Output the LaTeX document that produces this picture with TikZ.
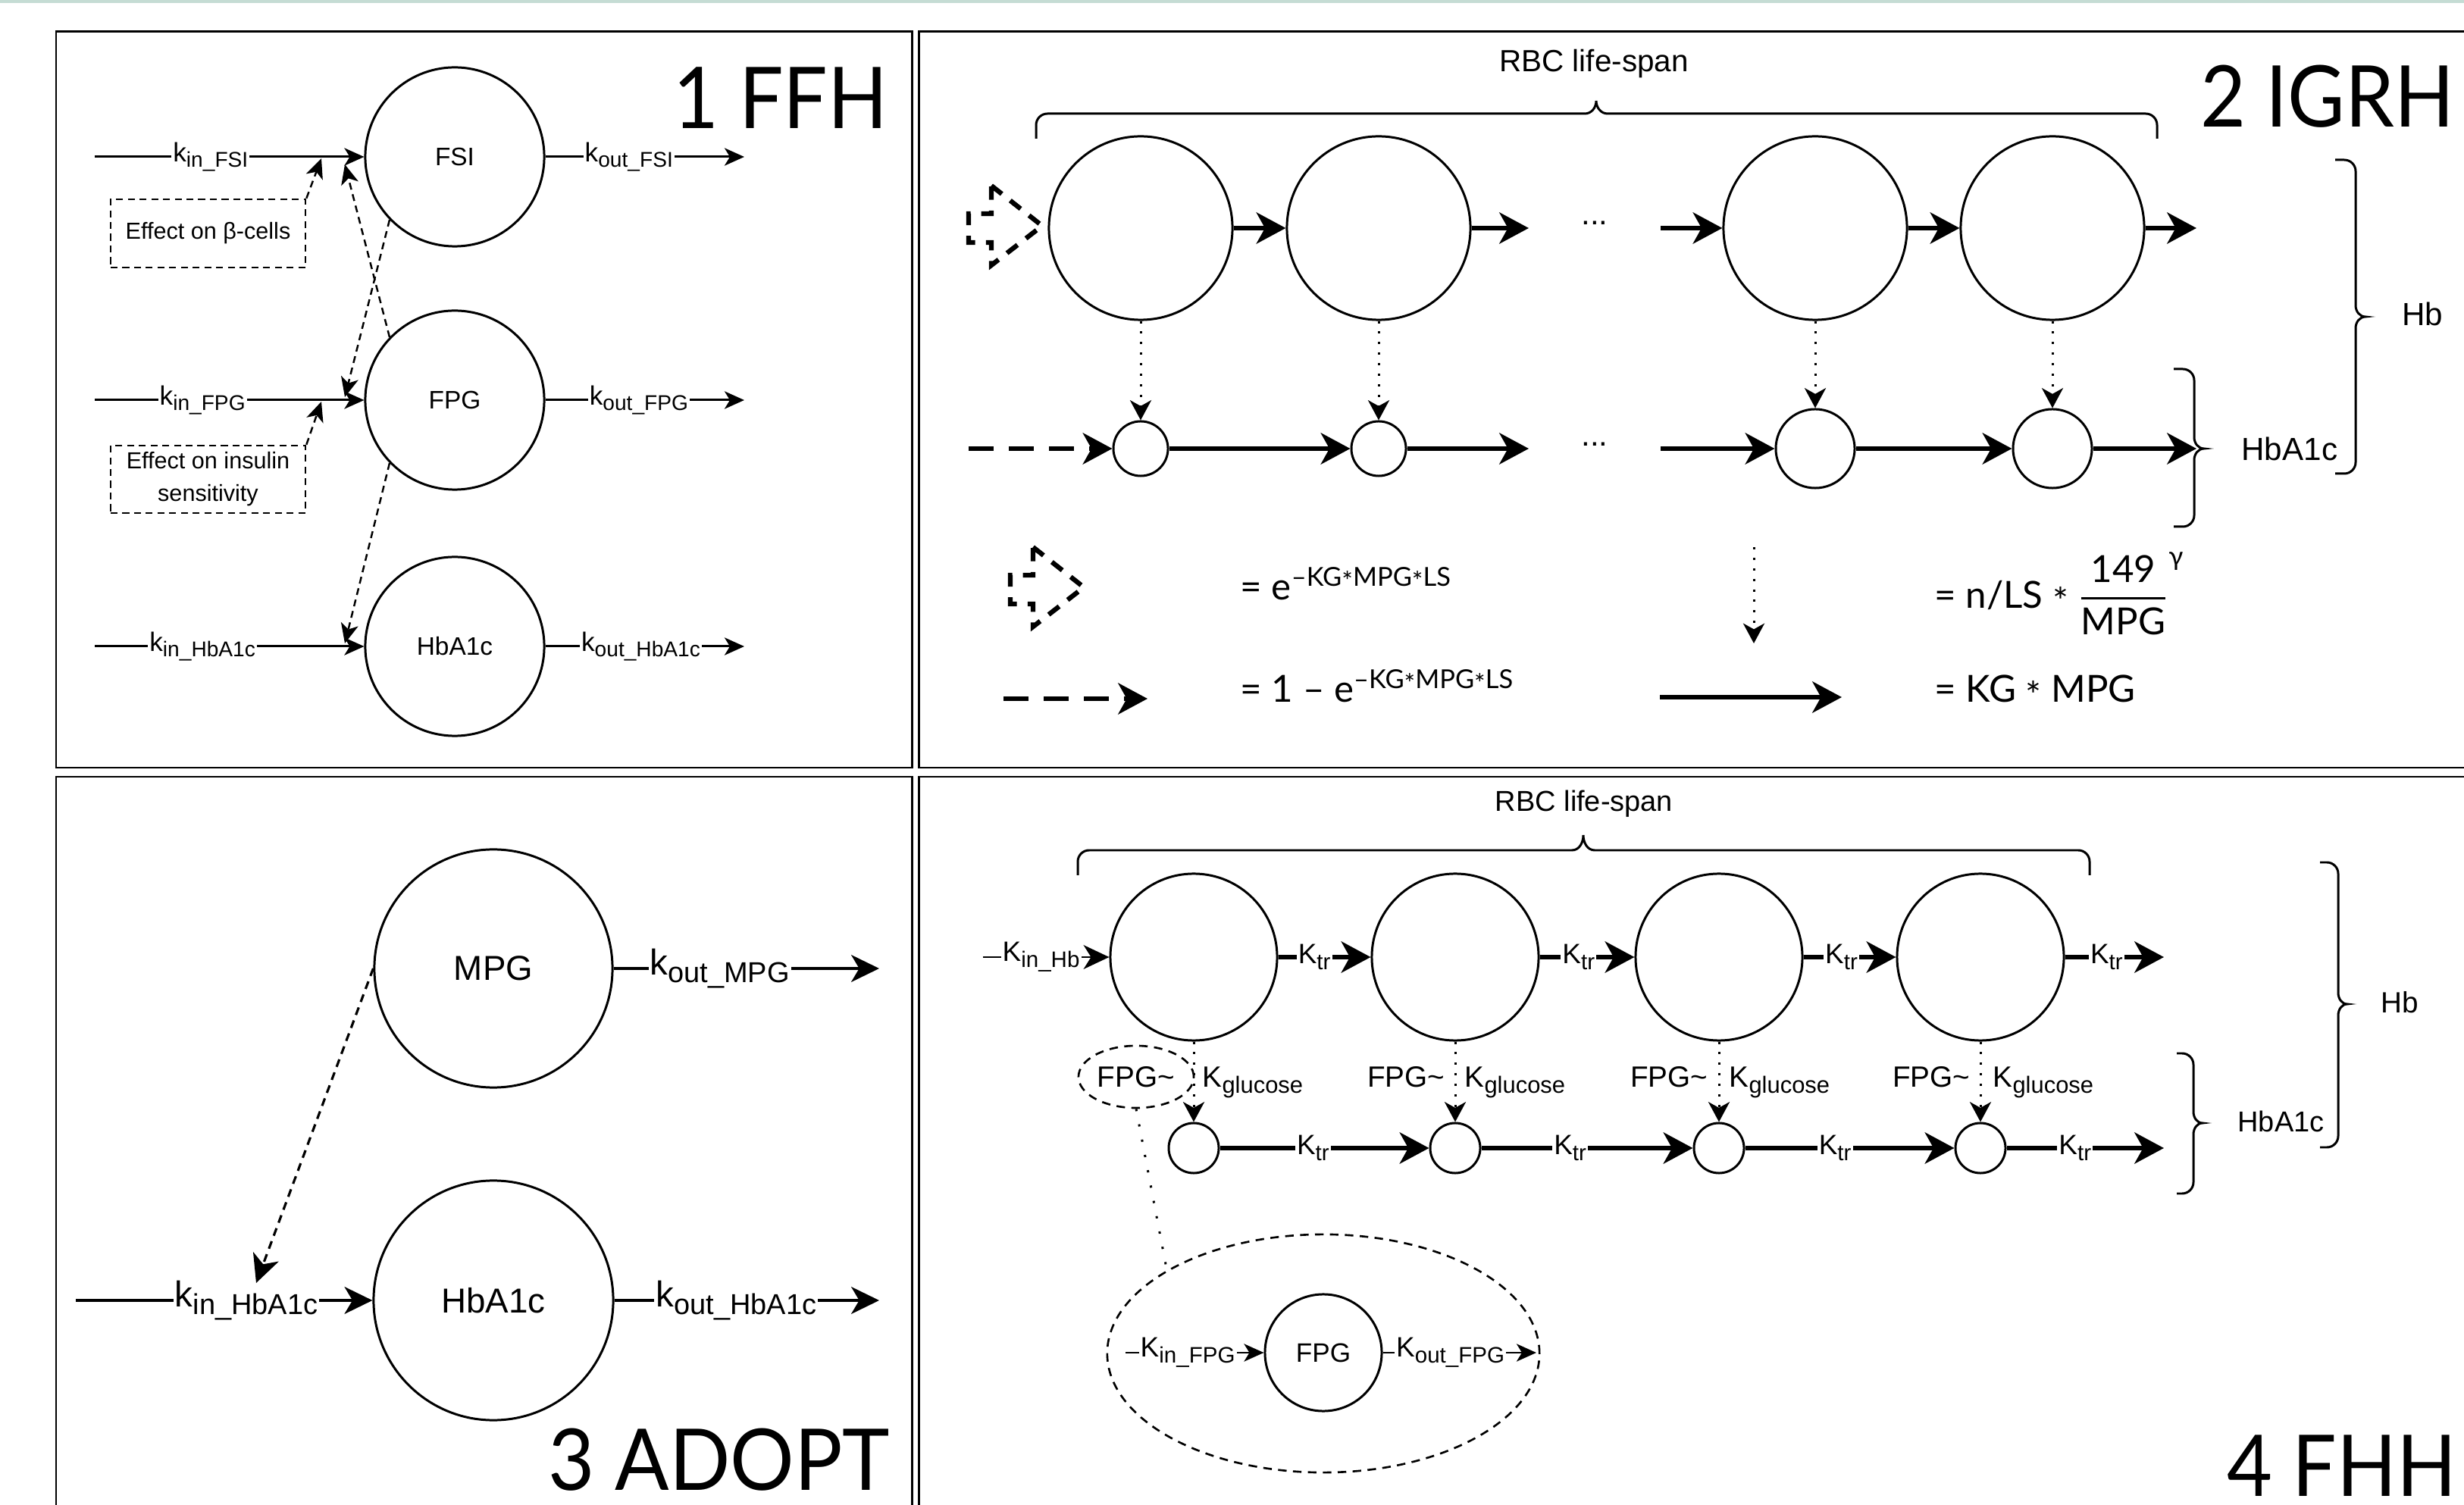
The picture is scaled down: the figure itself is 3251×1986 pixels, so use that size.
\documentclass[tikz,border=0pt]{standalone}
\usepackage{fontspec}
\usepackage{amsmath}
\setmainfont{Liberation Sans}
\newfontfamily\titlefont{Lato}
\usetikzlibrary{arrows.meta,shapes.geometric}
\definecolor{bandgreen}{RGB}{197,220,212}
\newcommand{\mystar}{\raisebox{-0.35ex}{*}}
\newcommand{\sbs}[1]{\raisebox{-0.22em}{\scalebox{0.8}{#1}}}
% top brace: x1, x2, xtip, yh, ytip, yend
\newcommand{\topbrace}[6]{\draw[bracestyle] (#1,#6) -- (#1,{#4+15}) to[out=90,in=180] ({#1+15},#4) -- ({#3-15},#4) to[out=0,in=-90] (#3,#5) to[out=-90,in=180] ({#3+15},#4) -- ({#2-15},#4) to[out=0,in=90] (#2,{#4+15}) -- (#2,#6);}
% right brace: xe, xv, xt, ytop, ytip, ybot
\newcommand{\rightbrace}[6]{\draw[bracestyle] (#1,#4) -- ({#2-15},#4) to[out=0,in=90] (#2,{#4+15}) -- (#2,{#5-15}) to[out=-90,in=180] (#3,#5) to[out=180,in=90] (#2,{#5+15}) -- (#2,{#6-15}) to[out=-90,in=0] ({#2-15},#6) -- (#1,#6);}
\begin{document}
\begin{tikzpicture}[x=0.01cm,y=-0.01cm,
  pbox/.style={draw, line width=0.85pt},
  circ/.style={draw, circle, line width=0.85pt, inner sep=0pt},
  bracestyle/.style={line width=0.85pt},
  tA/.style={-{Stealth[length=7.4pt,width=6.6pt,inset=2pt]}, line width=0.85pt},
  tB/.style={-{Stealth[length=10.5pt,width=10.2pt,inset=3pt]}, line width=0.9pt},
  tC/.style={-{Stealth[length=11pt,width=11.7pt,inset=3.2pt]}, line width=1.8pt},
  tD/.style={-{Stealth[length=9.6pt,width=9pt,inset=2.8pt]}, line width=0.85pt},
  dotA/.style={-{Stealth[length=7.5pt,width=8pt,inset=2.2pt]}, line width=0.85pt, dash pattern=on 0.85pt off 3.1pt},
  dotL/.style={line width=0.85pt, dash pattern=on 0.85pt off 5pt},
  dashA/.style={-{Stealth[length=7.4pt,width=6.6pt,inset=2pt]}, line width=0.7pt, dash pattern=on 2.6pt off 1.8pt},
  dashB/.style={line width=0.7pt, dash pattern=on 2.6pt off 1.8pt},
  dashC/.style={-{Stealth[length=10.5pt,width=10.2pt,inset=3pt]}, line width=0.9pt, dash pattern=on 3pt off 2.2pt},
  dashT/.style={-{Stealth[length=11pt,width=11.7pt,inset=3.2pt]}, line width=1.8pt, dash pattern=on 9.4pt off 5.7pt},
  dashE/.style={line width=0.75pt, dash pattern=on 3.2pt off 2.4pt},
  chev/.style={line width=1.8pt, dash pattern=on 5pt off 4pt},
  labA/.style={fill=white, inner sep=0.6pt, font=\fontsize{10}{12}\selectfont},
  labC/.style={fill=white, inner sep=0.6pt, font=\fontsize{13.5}{16}\selectfont},
  labD/.style={fill=white, inner sep=0.6pt, font=\fontsize{10.5}{12}\selectfont},
  ttl/.style={inner sep=0pt, font=\titlefont\fontsize{32}{32}\selectfont},
  frm/.style={inner sep=0pt, font=\titlefont\fontsize{14}{16}\selectfont}]
\useasboundingbox (0,0) rectangle (3251,1986);
\clip (0,0) rectangle (3251,1986);
\fill[bandgreen] (0,0) rectangle (3251,4);
% panels
\draw[pbox] (74,42) rectangle (1203,1013);
\draw[pbox] (1212,42) rectangle (3300,1013);
\draw[pbox] (74,1025) rectangle (1203,2050);
\draw[pbox] (1212,1025) rectangle (3300,2050);

% ================= Panel 1 =================
\node[ttl, anchor=base east] (T1) at (1172,170) {\scalebox{0.92}[1]{1 FFH}};
\node[circ, minimum size=2.36cm, font=\fontsize{9.5}{11}\selectfont] (FSI) at (600,207) {FSI};
\node[circ, minimum size=2.36cm, font=\fontsize{9.5}{11}\selectfont] (FPG) at (600,528) {FPG};
\node[circ, minimum size=2.36cm, font=\fontsize{9.5}{11}\selectfont] (HbA) at (600,853) {HbA1c};
\coordinate (iFSI) at (125,207);
\coordinate (oFSI) at (982,207);
\coordinate (iFPG) at (125,528);
\coordinate (oFPG) at (982,528);
\coordinate (iHbA) at (125,853);
\coordinate (oHbA) at (982,853);
\draw[tA] (iFSI) -- node[labA,pos=0.43]{k\sbs{in\_FSI}} (FSI);
\draw[tA] (FSI) -- node[labA,pos=0.42]{k\sbs{out\_FSI}} (oFSI);
\draw[tA] (iFPG) -- node[labA,pos=0.40]{k\sbs{in\_FPG}} (FPG);
\draw[tA] (FPG) -- node[labA,pos=0.47]{k\sbs{out\_FPG}} (oFPG);
\draw[tA] (iHbA) -- node[labA,pos=0.40]{k\sbs{in\_HbA1c}} (HbA);
\draw[tA] (HbA) -- node[labA,pos=0.48]{k\sbs{out\_HbA1c}} (oHbA);
\node[draw, dashB, minimum width=2.57cm, minimum height=0.9cm, inner sep=1pt, font=\fontsize{8.7}{12.2}\selectfont, align=center] (eb1) at (274.5,308) {Effect on β-cells};
\node[draw, dashB, minimum width=2.57cm, minimum height=0.89cm, inner sep=1pt, font=\fontsize{8.7}{12.2}\selectfont, align=center] (eb2) at (274.5,632.5) {Effect on insulin\\sensitivity};
\coordinate (e1) at (424,209);
\coordinate (e2) at (424,530);
\draw[dashA] (eb1.north east) -- (e1);
\draw[dashA] (eb2.north east) -- (e2);
\coordinate (x1) at (455,217);
\coordinate (x2) at (455,524);
\coordinate (x3) at (455,849);
\draw[dashA] (FPG.136) -- (x1);
\draw[dashA] (FSI.224) -- (x2);
\draw[dashA] (FPG.224) -- (x3);

% ================= Panel 2 =================
\node[ttl, anchor=base east] (T2) at (3239,168) {\scalebox{0.92}[1]{2 IGRH}};
\node[font=\fontsize{11.5}{13}\selectfont] (rbc2) at (2103,84) {RBC life-span};
\topbrace{1367}{2846}{2106}{150}{133}{183}
\node[circ, minimum size=2.42cm] (B1) at (1505,301) {};
\node[circ, minimum size=2.42cm] (B2) at (1819,301) {};
\node[circ, minimum size=2.42cm] (B3) at (2395,301) {};
\node[circ, minimum size=2.42cm] (B4) at (2708,301) {};
\node[circ, minimum size=0.72cm] (S1) at (1505,592) {};
\node[circ, minimum size=0.72cm] (S2) at (1819,592) {};
\node[circ, minimum size=1.04cm] (S3) at (2395,592) {};
\node[circ, minimum size=1.04cm] (S4) at (2708,592) {};
\coordinate (b2o) at (2017,301);
\coordinate (b3i) at (2191,301);
\coordinate (b4o) at (2898,301);
\coordinate (s1i) at (1278,592);
\coordinate (s2o) at (2017,592);
\coordinate (s3i) at (2191,592);
\coordinate (s4o) at (2898,592);
\draw[tC] (B1) -- (B2);
\draw[tC] (B2) -- (b2o);
\draw[tC] (b3i) -- (B3);
\draw[tC] (B3) -- (B4);
\draw[tC] (B4) -- (b4o);
\node[font=\fontsize{12}{14}\selectfont, anchor=base] (dots1) at (2104,297) {...};
\node[font=\fontsize{12}{14}\selectfont, anchor=base] (dots2) at (2104,589) {...};
\draw[dashT] (s1i) -- (S1);
\draw[tC] (S1) -- (S2);
\draw[tC] (S2) -- (s2o);
\draw[tC] (s3i) -- (S3);
\draw[tC] (S3) -- (S4);
\draw[tC] (S4) -- (s4o);
\draw[dotA] (B1) -- (S1);
\draw[dotA] (B2) -- (S2);
\draw[dotA] (B3) -- (S3);
\draw[dotA] (B4) -- (S4);
% dashed block-arrow input
\draw[chev] (1308,245) -- (1375,298) -- (1308,350) -- (1308,320) -- (1278,320) -- (1278,282) -- (1308,282) -- cycle;
% braces right
\rightbrace{2868}{2895}{2908}{487}{592}{695}
\node[anchor=west, font=\fontsize{12}{14}\selectfont] (hba2) at (2945,592) {HbA1c};
\rightbrace{3081}{3108}{3121}{211}{418}{625}
\node[anchor=west, font=\fontsize{12}{14}\selectfont] (hb2) at (3157,414) {Hb};
% legend
\begin{scope}[shift={(55,477)}]
\draw[chev] (1308,245) -- (1375,298) -- (1308,350) -- (1308,320) -- (1278,320) -- (1278,282) -- (1308,282) -- cycle;
\end{scope}
\node[frm, anchor=base west] (f1) at (1636,792) {= e\textsuperscript{–KG\mystar MPG\mystar LS}};
\coordinate (ld1) at (2314,722);
\coordinate (ld2) at (2314,849);
\draw[dotA] (ld1) -- (ld2);
\node[frm, anchor=west] (f2) at (2552,783) {= n/LS \mystar\ ${\genfrac{}{}{0.8pt}{0}{\mbox{149}}{\mbox{MPG}}}^{\mbox{\fontsize{10}{10}\selectfont γ}}$};
\coordinate (lt1) at (1324,922);
\coordinate (lt2) at (1514,922);
\draw[dashT] (lt1) -- (lt2);
\node[frm, anchor=base west] (f3) at (1636,927) {= 1 – e\textsuperscript{–KG\mystar MPG\mystar LS}};
\coordinate (ls1) at (2190,920);
\coordinate (ls2) at (2430,920);
\draw[tC] (ls1) -- (ls2);
\node[frm, anchor=base west] (f4) at (2552,927) {= KG \mystar\ MPG};

% ================= Panel 3 =================
\node[ttl, anchor=base east] (T3) at (1175,1966) {\scalebox{0.94}[1]{3 ADOPT}};
\node[circ, minimum size=3.14cm, font=\fontsize{13}{15}\selectfont] (MPG) at (651,1278) {MPG};
\node[circ, minimum size=3.16cm, font=\fontsize{13}{15}\selectfont] (HbA3) at (651,1716) {HbA1c};
\coordinate (i3) at (100,1716);
\coordinate (o3) at (1160,1716);
\coordinate (o3m) at (1160,1278);
\coordinate (t4) at (338,1693);
\draw[tB] (i3) -- node[labC,pos=0.575]{k\sbs{in\_HbA1c}} (HbA3);
\draw[tB] (HbA3) -- node[labC,pos=0.46]{k\sbs{out\_HbA1c}} (o3);
\draw[tB] (MPG) -- node[labC,pos=0.40]{k\sbs{out\_MPG}} (o3m);
\draw[dashC] (MPG.west) -- (t4);

% ================= Panel 4 =================
\node[ttl, anchor=base east] (T4) at (3242,1974) {\scalebox{0.92}[1]{4 FHH}};
\node[font=\fontsize{10.8}{13}\selectfont] (rbc4) at (2090,1061) {RBC life-span};
\topbrace{1422}{2757}{2089}{1122}{1102}{1155}
\node[circ, minimum size=2.2cm] (C1) at (1575,1263) {};
\node[circ, minimum size=2.2cm] (C2) at (1920,1263) {};
\node[circ, minimum size=2.2cm] (C3) at (2268,1263) {};
\node[circ, minimum size=2.2cm] (C4) at (2613,1263) {};
\node[circ, minimum size=0.66cm] (D1) at (1575,1515) {};
\node[circ, minimum size=0.66cm] (D2) at (1920,1515) {};
\node[circ, minimum size=0.66cm] (D3) at (2268,1515) {};
\node[circ, minimum size=0.66cm] (D4) at (2613,1515) {};
\coordinate (c1i) at (1297,1263);
\coordinate (c4o) at (2855,1263);
\coordinate (d4o) at (2855,1515);
\draw[tD] (c1i) -- node[labD,pos=0.46]{K\sbs{in\_Hb}} (C1);
\draw[tC] (C1) -- node[labD,pos=0.39]{K\sbs{tr}} (C2);
\draw[tC] (C2) -- node[labD,pos=0.41]{K\sbs{tr}} (C3);
\draw[tC] (C3) -- node[labD,pos=0.41]{K\sbs{tr}} (C4);
\draw[tC] (C4) -- node[labD,pos=0.42]{K\sbs{tr}} (c4o);
\draw[tC] (D1) -- node[labD,pos=0.445]{K\sbs{tr}} (D2);
\draw[tC] (D2) -- node[labD,pos=0.42]{K\sbs{tr}} (D3);
\draw[tC] (D3) -- node[labD,pos=0.43]{K\sbs{tr}} (D4);
\draw[tC] (D4) -- node[labD,pos=0.435]{K\sbs{tr}} (d4o);
\draw[dotA] (C1) -- (D1);
\draw[dotA] (C2) -- (D2);
\draw[dotA] (C3) -- (D3);
\draw[dotA] (C4) -- (D4);
\node[draw, ellipse, dashE, minimum width=1.52cm, minimum height=0.82cm, inner sep=0pt, font=\fontsize{11}{13}\selectfont] (fg1) at (1499,1421) {FPG\textasciitilde};
\node[anchor=base east, inner sep=0pt, font=\fontsize{11}{13}\selectfont] (fg2) at (1907,1434) {FPG\textasciitilde};
\node[anchor=base east, inner sep=0pt, font=\fontsize{11}{13}\selectfont] (fg3) at (2254,1434) {FPG\textasciitilde};
\node[anchor=base east, inner sep=0pt, font=\fontsize{11}{13}\selectfont] (fg4) at (2600,1434) {FPG\textasciitilde};
\node[anchor=base west, inner sep=0pt, font=\fontsize{11}{13}\selectfont] (kg1) at (1586,1434) {K\sbs{glucose}};
\node[anchor=base west, inner sep=0pt, font=\fontsize{11}{13}\selectfont] (kg2) at (1932,1434) {K\sbs{glucose}};
\node[anchor=base west, inner sep=0pt, font=\fontsize{11}{13}\selectfont] (kg3) at (2281,1434) {K\sbs{glucose}};
\node[anchor=base west, inner sep=0pt, font=\fontsize{11}{13}\selectfont] (kg4) at (2629,1434) {K\sbs{glucose}};
\node[draw, ellipse, dashE, minimum width=5.7cm, minimum height=3.14cm, inner sep=0pt] (bigE) at (1746,1786) {};
\node[circ, minimum size=1.54cm, font=\fontsize{10}{12}\selectfont] (FPGi) at (1746,1785) {FPG};
\coordinate (fi) at (1485,1785);
\coordinate (fo) at (2027,1785);
\draw[tA] (fi) -- node[labD,pos=0.45]{K\sbs{in\_FPG}} (FPGi);
\draw[tA] (FPGi) -- node[labD,pos=0.44]{K\sbs{out\_FPG}} (fo);
\draw[dotL] (fg1.south) -- (bigE.152);
\rightbrace{2872}{2894}{2906}{1390}{1482}{1575}
\node[anchor=west, font=\fontsize{10.8}{13}\selectfont] (hba4) at (2940,1480) {HbA1c};
\rightbrace{3061}{3085}{3097}{1138}{1325}{1514}
\node[anchor=west, font=\fontsize{11}{13}\selectfont] (hb4) at (3129,1323) {Hb};
\end{tikzpicture}
\end{document}
